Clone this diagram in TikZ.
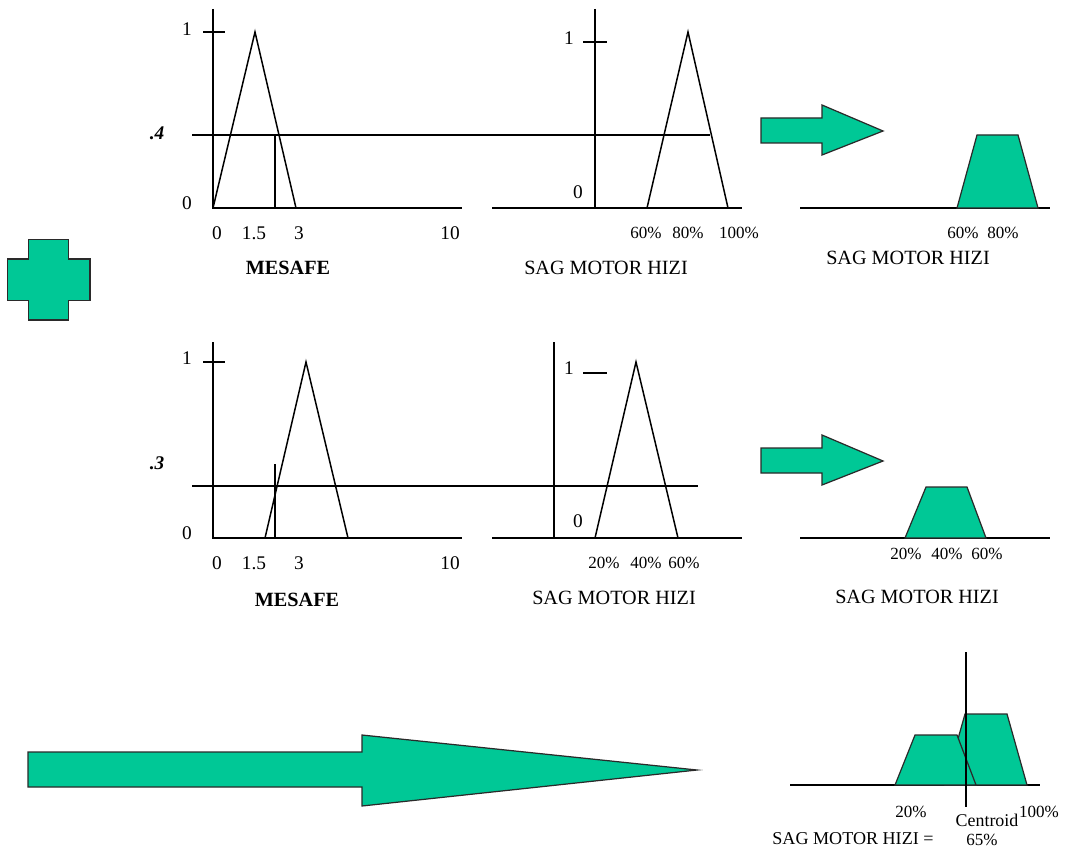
\documentclass[tikz,border=0pt]{standalone}
\usepackage{fontspec}
\setmainfont{Liberation Serif}
\usetikzlibrary{positioning}
\definecolor{fuzzgreen}{HTML}{00C896}
\definecolor{edge}{HTML}{2A2A2A}
\tikzset{
  axisline/.style={draw=black,line width=0.75pt},
  member/.style={draw=black,line width=0.85pt,line join=miter},
  greenblock/.style={draw=edge,fill=fuzzgreen,line width=0.7pt,line join=miter},
  numlbl/.style={inner sep=0pt,font=\fontsize{11}{13}\selectfont},
  pctlbl/.style={inner sep=0pt,font=\fontsize{9.7}{12}\selectfont},
  cutlbl/.style={inner sep=0pt,font=\fontsize{11}{13}\selectfont\bfseries\itshape},
  title/.style={inner sep=0pt,font=\fontsize{11.5}{14}\selectfont},
  btitle/.style={inner sep=0pt,font=\fontsize{11.5}{14}\selectfont\bfseries}
}
\begin{document}
\begin{tikzpicture}[x=0.02cm,y=-0.02cm]
  \useasboundingbox (0,0) rectangle (1067,858);
  % plus
  \draw[greenblock] (28.3,239.3) -- (68.3,239.3) -- (68.3,259) -- (90,259) -- (90,300.7)
    -- (68.3,300.7) -- (68.3,320) -- (28.3,320) -- (28.3,300.7) -- (7.3,300.7)
    -- (7.3,259) -- (28.3,259) -- cycle;

  % row 1: mesafe
  \draw[axisline] (213,9) -- (213,208) -- (462,208);
  \draw[axisline] (203,32) -- (225,32);
  \draw[member] (213,208) -- (255,32) -- (296,208);
  \draw[axisline] (192,135) -- (710,135);
  \draw[axisline] (275,135) -- (275,208);
  \node[numlbl] (oneA) at (187,29) {1};
  \node[numlbl] (zeroA) at (187,203) {0};
  \node[cutlbl] (cutA) at (157,133) {.4};
  \node[numlbl] (tA0) at (217,233) {0};
  \node[numlbl] (tA15) at (254,233) {1.5};
  \node[numlbl] (tA3) at (299,233) {3};
  \node[numlbl] (tA10) at (450,233) {10};
  \node[btitle] (mesafeA) at (288,268) {MESAFE};

  % row 1: sag motor hizi
  \draw[axisline] (595,9) -- (595,208);
  \draw[axisline] (492,208) -- (742,208);
  \draw[axisline] (583,42) -- (607,42);
  \draw[member] (647,208) -- (688,32) -- (728,208);
  \node[numlbl] (oneB) at (569,38) {1};
  \node[numlbl] (zeroB) at (578,192) {0};
  \node[pctlbl] (tB60) at (646,233) {60\%};
  \node[pctlbl] (tB80) at (688,233) {80\%};
  \node[pctlbl] (tB100) at (739,233) {100\%};
  \node[title] (motorB) at (606,268) {SAG MOTOR HIZI};

  % row 1: result
  \draw[greenblock] (761,118) -- (822,118) -- (822,105) -- (883,131) -- (822,155)
    -- (822,143) -- (761,143) -- cycle;
  \draw[axisline] (800,208) -- (1050,208);
  \draw[greenblock] (957,208) -- (977,135) -- (1018,135) -- (1038,208) -- cycle;
  \node[pctlbl] (tC60) at (963,233) {60\%};
  \node[pctlbl] (tC80) at (1003,233) {80\%};
  \node[title] (motorC) at (908,258) {SAG MOTOR HIZI};

  % row 2: mesafe
  \draw[axisline] (213,342) -- (213,538) -- (462,538);
  \draw[axisline] (203,362) -- (225,362);
  \draw[member] (265,538) -- (306,362) -- (348,538);
  \draw[axisline] (192,486) -- (698,486);
  \draw[axisline] (275,464) -- (275,538);
  \node[numlbl] (oneD) at (187,358) {1};
  \node[numlbl] (zeroD) at (187,533) {0};
  \node[cutlbl] (cutD) at (157,463) {.3};
  \node[numlbl] (tD0) at (217,563) {0};
  \node[numlbl] (tD15) at (254,563) {1.5};
  \node[numlbl] (tD3) at (299,563) {3};
  \node[numlbl] (tD10) at (450,563) {10};
  \node[btitle] (mesafeD) at (297,600) {MESAFE};

  % row 2: sag motor hizi
  \draw[axisline] (554,342) -- (554,538);
  \draw[axisline] (492,538) -- (742,538);
  \draw[axisline] (583,373) -- (607,373);
  \draw[member] (595,538) -- (636,362) -- (678,538);
  \node[numlbl] (oneE) at (569,368) {1};
  \node[numlbl] (zeroE) at (578,521) {0};
  \node[pctlbl] (tE20) at (604,563) {20\%};
  \node[pctlbl] (tE40) at (646,563) {40\%};
  \node[pctlbl] (tE60) at (684,563) {60\%};
  \node[title] (motorE) at (614,598) {SAG MOTOR HIZI};

  % row 2: result
  \draw[greenblock] (761,448) -- (822,448) -- (822,435) -- (883,461) -- (822,485)
    -- (822,473) -- (761,473) -- cycle;
  \draw[axisline] (800,538) -- (1050,538);
  \draw[greenblock] (905,538) -- (926,487) -- (967,487) -- (986,538) -- cycle;
  \node[pctlbl] (tF20) at (906,554) {20\%};
  \node[pctlbl] (tF40) at (947,554) {40\%};
  \node[pctlbl] (tF60) at (987,554) {60\%};
  \node[title] (motorF) at (917,597) {SAG MOTOR HIZI};

  % combined output
  \draw[greenblock] (28,752) -- (362,752) -- (362,735) -- (697,770) -- (362,806)
    -- (362,787) -- (28,787) -- cycle;
  \draw[axisline] (790,785) -- (1040,785);
  \draw[greenblock] (945,785) -- (965,714) -- (1007,714) -- (1027,785) -- cycle;
  \draw[greenblock] (895,785) -- (915,735) -- (957,735) -- (976,785) -- cycle;
  \draw[axisline] (966,652) -- (966,807);
  \node[pctlbl] (tG20) at (911,812) {20\%};
  \node[pctlbl] (tG100) at (1039,812) {100\%};
  \node[pctlbl,font=\fontsize{10.2}{12}\selectfont] (centroid) at (987,820) {Centroid};
  \node[title,font=\fontsize{10.3}{12}\selectfont] (motorG) at (853,839) {SAG MOTOR HIZI =};
  \node[pctlbl] (crisp) at (982,840) {65\%};
\end{tikzpicture}
\end{document}
